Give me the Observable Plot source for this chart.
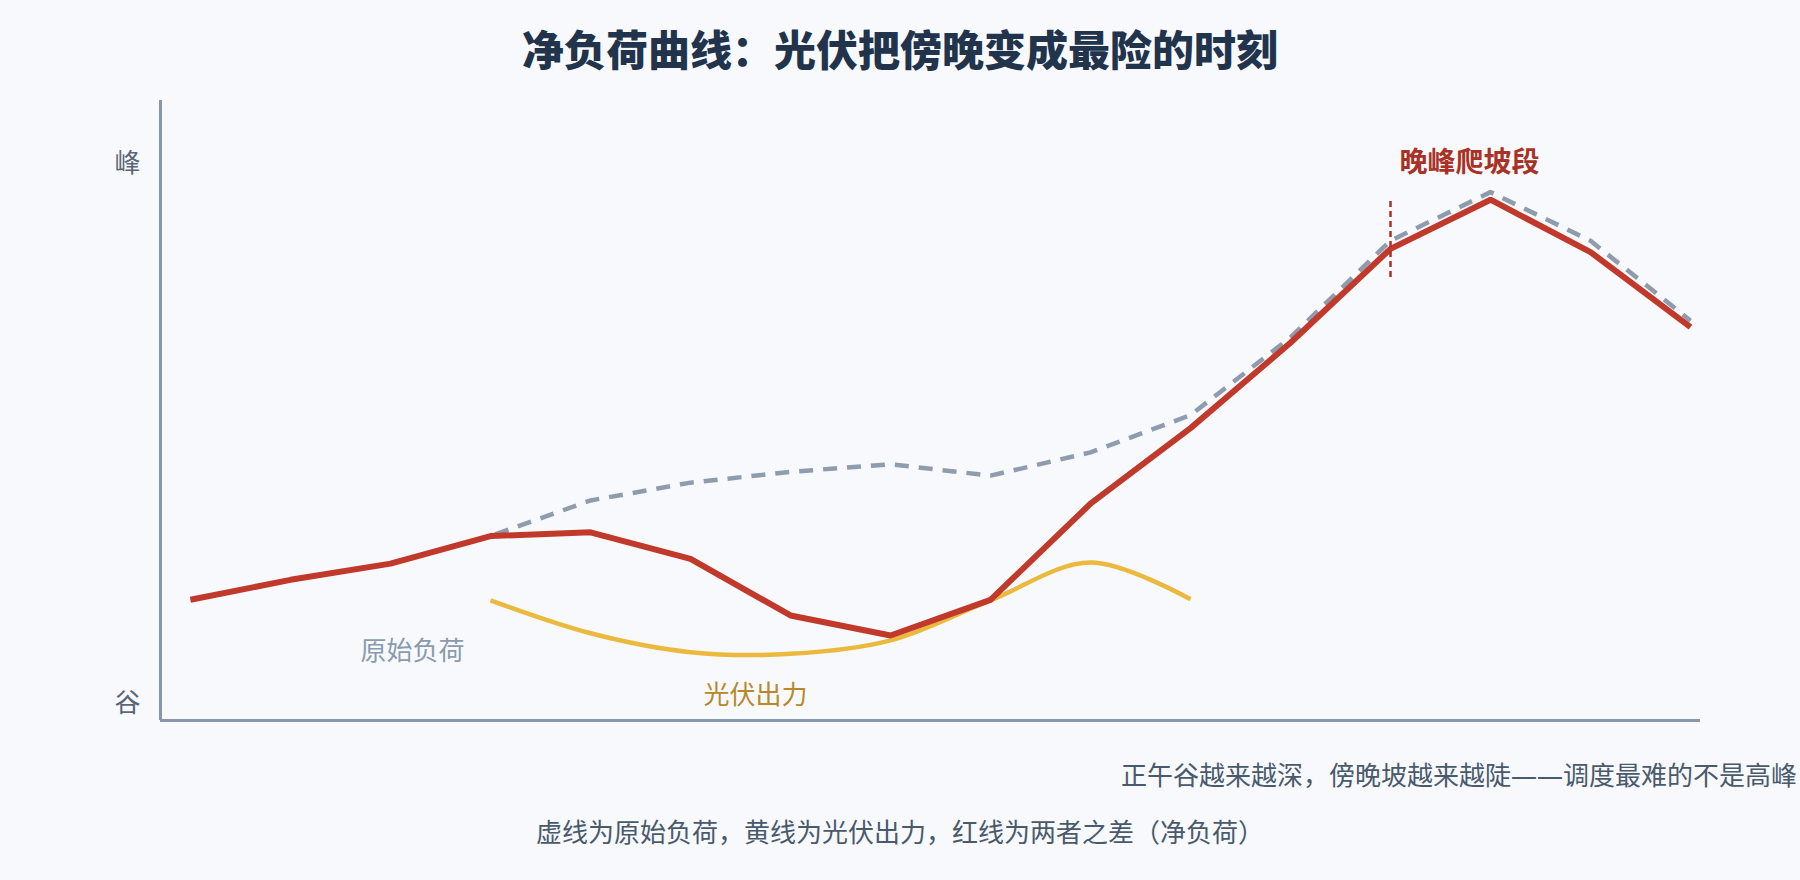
<!DOCTYPE html>
<html>
<head>
<meta charset="utf-8">
<script src="https://cdn.jsdelivr.net/npm/d3@7"></script>
<script src="https://cdn.jsdelivr.net/npm/@observablehq/plot@0.6"></script>
<style>
html, body { margin: 0; padding: 0; background: #f7f9fc; overflow: hidden; }
#wrap { position: relative; width: 1800px; height: 880px; font-family: "Noto Sans", "Noto Sans CJK SC", sans-serif; }
#chart { position: absolute; left: 0; top: 0; }
#title { position: absolute; left: 0; top: 20px; width: 1800px; text-align: center; font-size: 42px; font-weight: 800; color: #22344c; line-height: 60px; }
#sub { position: absolute; left: 1121px; top: 757px; font-size: 26px; color: #4a5a6d; white-space: nowrap; line-height: 36px; }
#cap { position: absolute; left: 0; top: 814px; width: 1800px; text-align: center; font-size: 26px; color: #4a5a6d; line-height: 36px; white-space: nowrap; }
</style>
</head>
<body>
<div id="wrap">
  <div id="chart"></div>
  <div id="title">净负荷曲线：光伏把傍晚变成最险的时刻</div>
  <div id="sub">正午谷越来越深，傍晚坡越来越陡——调度最难的不是高峰</div>
  <div id="cap">虚线为原始负荷，黄线为光伏出力，红线为两者之差（净负荷）</div>
</div>
<script>
// hours of the day
const hours = [6, 7, 8, 9, 10, 11, 12, 13, 14, 15, 16, 17, 18, 19, 20, 21];
// net load (red)
const netLoad = [19.2, 22.9, 25.9, 31.0, 31.7, 26.8, 16.3, 12.6, 19.2, 37.0, 51.0, 66.8, 84.2, 93.3, 83.6, 69.7];
// raw load (grey dashed)
const rawLoad = [19.2, 22.9, 25.9, 31.0, 37.6, 40.9, 42.9, 44.3, 42.2, 46.5, 53.4, 67.8, 85.7, 94.7, 85.7, 70.9];
// solar output (yellow)
const solarHours = [9, 10, 11, 12, 13, 14, 15, 16];
const solarOutput = [19.1, 13.0, 9.5, 9.2, 11.7, 19.1, 26.1, 19.3];

// y axis ticks
const yTicks = [0, 100];
const yTickLabels = ["谷", "峰"];

// annotations
const rampHour = [18];
const rampRange = [78.9, 93.1];
const rampLabel = ["晚峰爬坡段"];
const rawLabelPos = [8.22, 9.6];
const solarLabelPos = [11.65, 1.5];

const xDomain = [5.7, 21.1];
const yDomain = [-3.15, 111.67];

const netData = hours.map((h, i) => ({h, v: netLoad[i]}));
const rawData = hours.map((h, i) => ({h, v: rawLoad[i]}));
const solarData = solarHours.map((h, i) => ({h, v: solarOutput[i]}));

const chart = Plot.plot({
  width: 1800,
  height: 880,
  marginLeft: 160,
  marginRight: 100,
  marginTop: 100,
  marginBottom: 160,
  x: {domain: xDomain, axis: null},
  y: {domain: yDomain, axis: null},
  style: {background: "transparent", fontFamily: "'Noto Sans', 'Noto Sans CJK SC', sans-serif", overflow: "visible"},
  marks: [
    Plot.axisY(yTicks, {
      tickFormat: d => yTickLabels[yTicks.indexOf(d)],
      tickSize: 0,
      tickPadding: 20,
      fontSize: 26,
      color: "#5b6778",
      label: null
    }),
    Plot.ruleX([xDomain[0]], {stroke: "#8a97a8", strokeWidth: 3}),
    Plot.ruleY([yDomain[0]], {stroke: "#8a97a8", strokeWidth: 3}),
    Plot.line(rawData, {x: "h", y: "v", stroke: "#8e9cad", strokeWidth: 4.5, strokeDasharray: "14,10", strokeLinecap: "butt", strokeLinejoin: "miter"}),
    Plot.line(solarData, {x: "h", y: "v", stroke: "#ebb93e", strokeWidth: 4.5, curve: "catmull-rom", strokeLinecap: "butt"}),
    Plot.line(netData, {x: "h", y: "v", stroke: "#c0392b", strokeWidth: 6, strokeLinecap: "butt", strokeLinejoin: "miter"}),
    Plot.ruleX(rampHour, {y1: rampRange[0], y2: rampRange[1], stroke: "#a93226", strokeWidth: 2.5, strokeDasharray: "6,4"}),
    Plot.text(rampLabel, {x: rampHour[0], y: 100, text: d => d, dx: 9, textAnchor: "start", fill: "#a93226", fontSize: 28, fontWeight: 700}),
    Plot.text(["原始负荷"], {x: rawLabelPos[0], y: rawLabelPos[1], text: d => d, fill: "#8a9bb0", fontSize: 26}),
    Plot.text(["光伏出力"], {x: solarLabelPos[0], y: solarLabelPos[1], text: d => d, fill: "#b8892b", fontSize: 26})
  ]
});
document.getElementById("chart").appendChild(chart);
</script>
</body>
</html>
